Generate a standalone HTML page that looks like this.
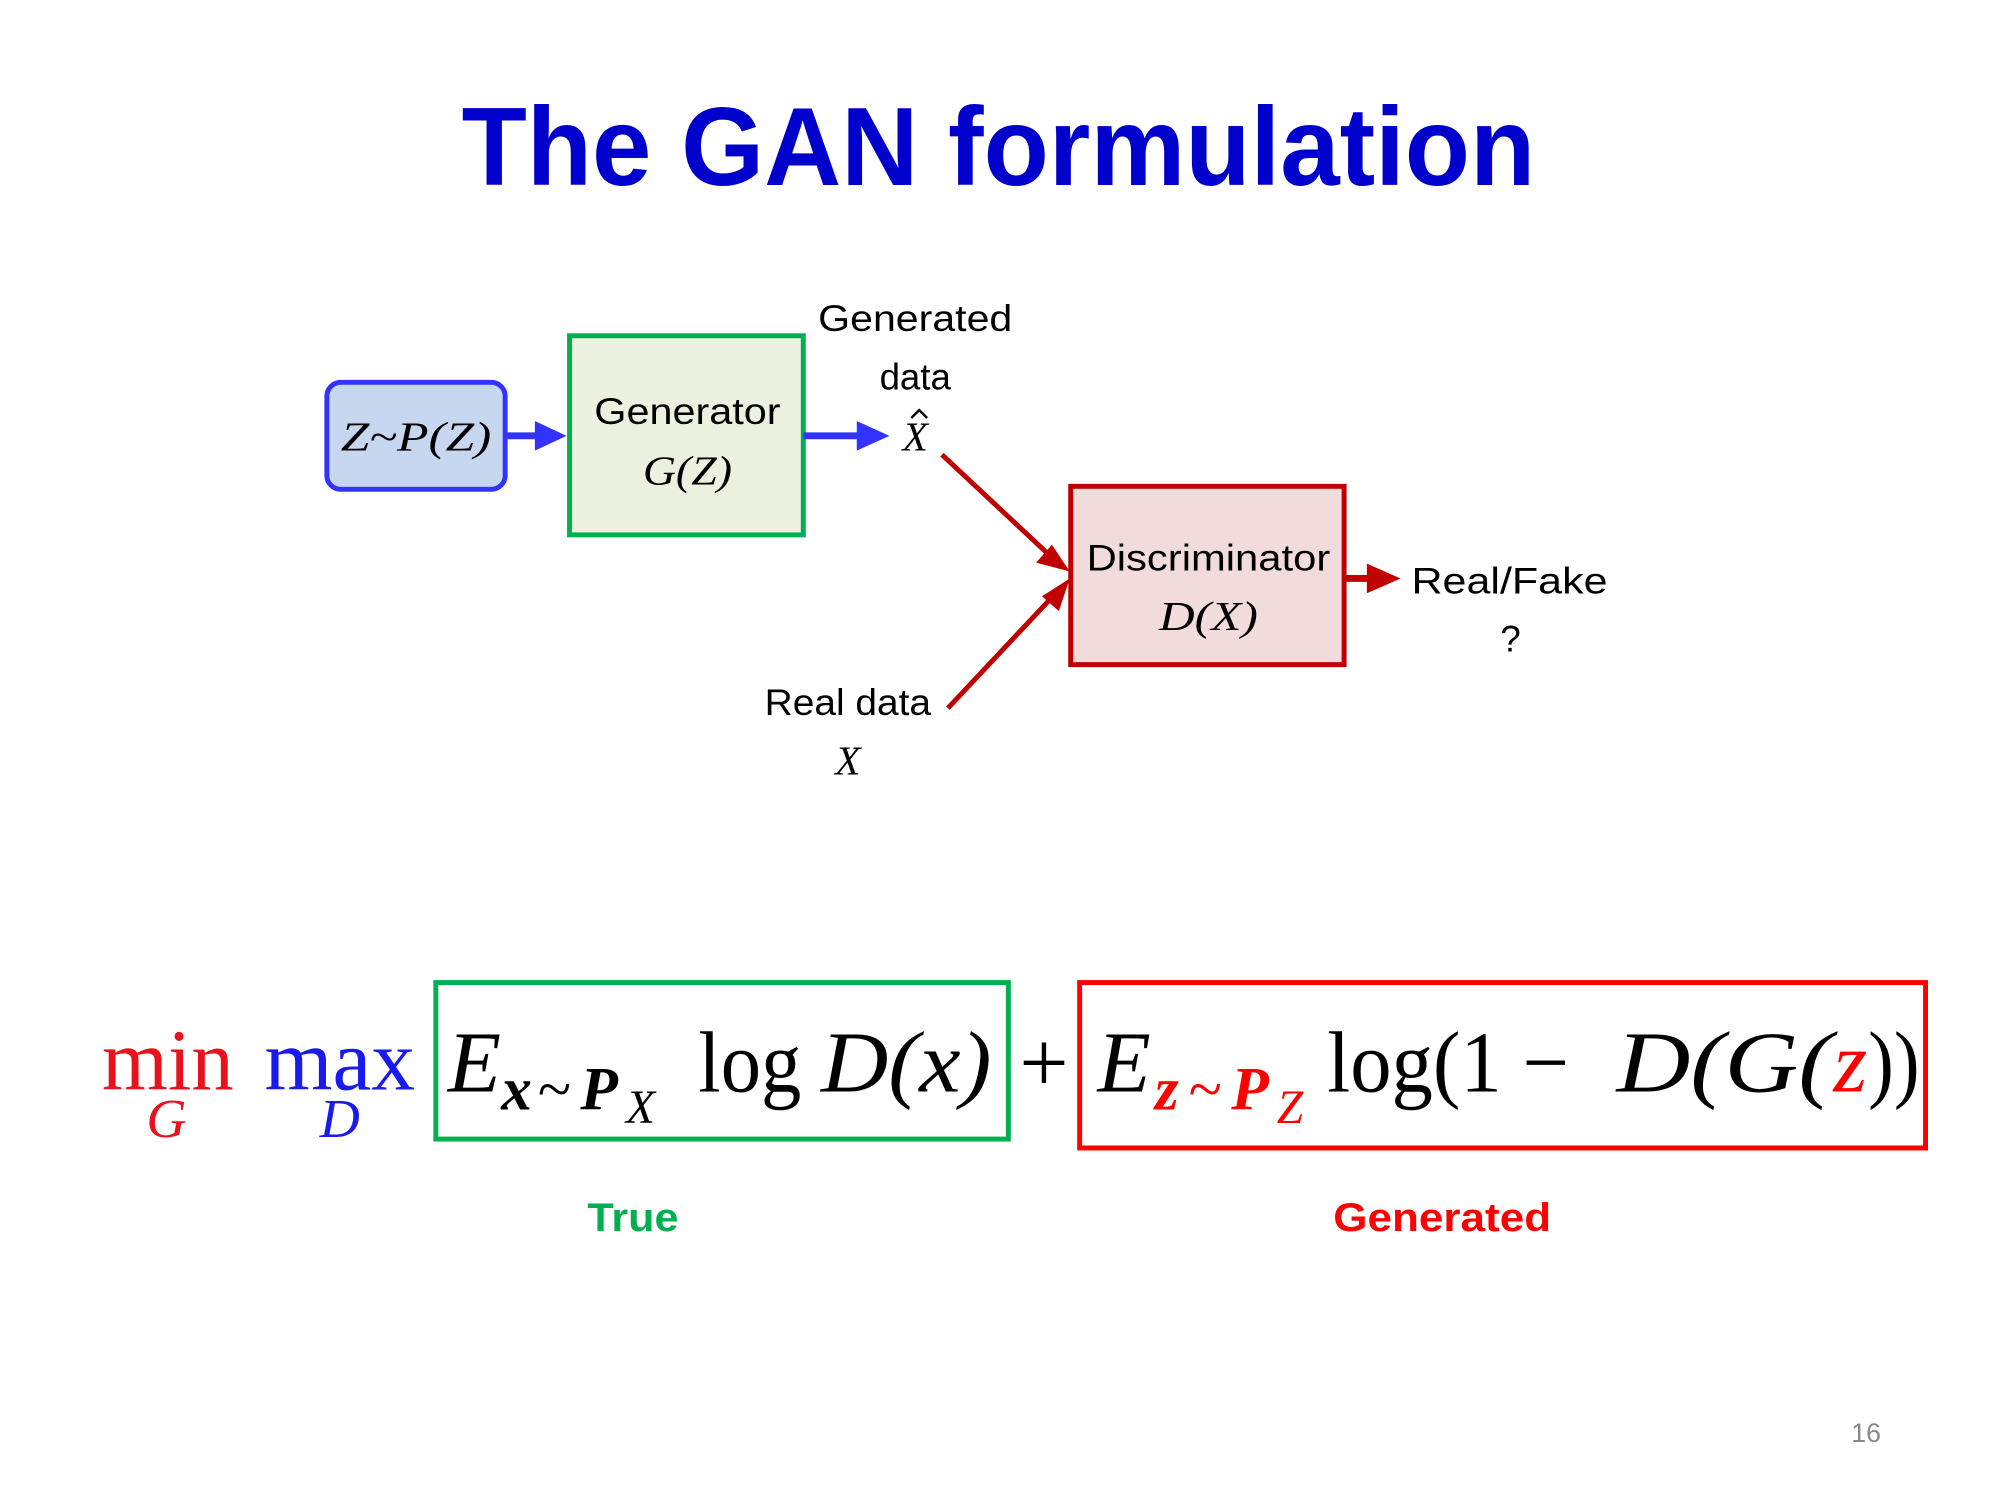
<!DOCTYPE html>
<html><head><meta charset="utf-8"><style>
html,body{margin:0;padding:0;background:#fff}
svg{display:block}
.lbl{font-family:"Liberation Sans",sans-serif;font-size:37px;fill:#000}
.it{font-family:"Liberation Serif",serif;font-style:italic;font-size:42px;fill:#000}
.m{font-family:"Liberation Serif",serif;font-size:88px;fill:#000}
.mi{font-family:"Liberation Serif",serif;font-style:italic;font-size:88px;fill:#000}
.sb{font-family:"Liberation Serif",serif;font-size:62px;fill:#000}
</style></head><body>
<svg width="2000" height="1500" viewBox="0 0 2000 1500" xmlns="http://www.w3.org/2000/svg">
<g transform="scale(0.9905)">
<text x="1008" y="187" text-anchor="middle" font-family="Liberation Sans,sans-serif" font-weight="bold" font-size="112" fill="#0000cc" textLength="1084" lengthAdjust="spacingAndGlyphs">The GAN formulation</text>

<rect x="330" y="386" width="180" height="108" rx="14" fill="#c6d7ef" stroke="#3333ff" stroke-width="5"/>
<text x="420" y="455" text-anchor="middle" class="it" textLength="152" lengthAdjust="spacingAndGlyphs">Z~P(Z)</text>
<line x1="510" y1="440" x2="545" y2="440" stroke="#3333ff" stroke-width="7"/>
<polygon points="540,425 572,440 540,455" fill="#3333ff"/>

<rect x="575" y="339" width="236" height="201" fill="#ebf1de" stroke="#00b050" stroke-width="5"/>
<text x="694" y="428" text-anchor="middle" class="lbl" textLength="188" lengthAdjust="spacingAndGlyphs">Generator</text>
<text x="694" y="489" text-anchor="middle" class="it" textLength="90" lengthAdjust="spacingAndGlyphs">G(Z)</text>
<line x1="811" y1="440" x2="870" y2="440" stroke="#3333ff" stroke-width="7"/>
<polygon points="865,425 898,440 865,455" fill="#3333ff"/>

<text x="924" y="334" text-anchor="middle" class="lbl" textLength="196" lengthAdjust="spacingAndGlyphs">Generated</text>
<text x="924" y="393" text-anchor="middle" class="lbl">data</text>
<text x="924" y="455" text-anchor="middle" class="it">X</text>
<polyline points="920,422 928,414 936,422" fill="none" stroke="#000" stroke-width="2.5"/>

<line x1="951" y1="459" x2="1060" y2="561" stroke="#c00000" stroke-width="5"/>
<polygon points="1080,577 1046,568 1062,550" fill="#c00000"/>
<line x1="957" y1="715" x2="1063" y2="602" stroke="#c00000" stroke-width="5"/>
<polygon points="1080,584 1069,617 1052,602" fill="#c00000"/>

<rect x="1081" y="491" width="276" height="180" fill="#f2dcdb" stroke="#c00000" stroke-width="5"/>
<text x="1220" y="576" text-anchor="middle" class="lbl" textLength="246" lengthAdjust="spacingAndGlyphs">Discriminator</text>
<text x="1220" y="636" text-anchor="middle" class="it" textLength="100" lengthAdjust="spacingAndGlyphs">D(X)</text>
<line x1="1357" y1="584" x2="1385" y2="584" stroke="#c00000" stroke-width="7"/>
<polygon points="1380,569 1414,584 1380,599" fill="#c00000"/>
<text x="1425" y="599" class="lbl" textLength="198" lengthAdjust="spacingAndGlyphs">Real/Fake</text>
<text x="1525" y="658" text-anchor="middle" class="lbl">?</text>

<text x="856" y="722" text-anchor="middle" class="lbl" textLength="168" lengthAdjust="spacingAndGlyphs">Real data</text>
<text x="856" y="782" text-anchor="middle" class="it">X</text>

<text x="103" y="1100" class="m" style="fill:#e8121c" textLength="133" lengthAdjust="spacingAndGlyphs">min</text>
<text x="168" y="1148" text-anchor="middle" class="mi" style="fill:#e8121c;font-size:56px">G</text>
<text x="267" y="1100" class="m" style="fill:#1a1aee" textLength="152" lengthAdjust="spacingAndGlyphs">max</text>
<text x="343" y="1148" text-anchor="middle" class="mi" style="fill:#1a1aee;font-size:56px">D</text>

<rect x="440" y="992" width="578" height="158" fill="none" stroke="#00b050" stroke-width="5"/>
<text x="452" y="1102" class="mi">E</text>
<text x="506" y="1120" class="sb" font-style="italic" font-weight="bold">x</text>
<text x="543" y="1120" class="sb">~</text>
<text x="586" y="1120" class="sb" font-style="italic" font-weight="bold">P</text>
<text x="632" y="1134" class="sb" font-style="italic" style="font-size:48px">X</text>
<text x="705" y="1102" class="m" textLength="104" lengthAdjust="spacingAndGlyphs">log</text>
<text x="829" y="1102" class="mi" textLength="172" lengthAdjust="spacingAndGlyphs">D(x)</text>

<text x="1054" y="1102" text-anchor="middle" class="m">+</text>

<rect x="1090" y="992" width="854" height="167" fill="none" stroke="#ff0000" stroke-width="5"/>
<text x="1108" y="1102" class="mi">E</text>
<text x="1166" y="1120" class="sb" font-style="italic" font-weight="bold" style="fill:#ff0000">z</text>
<text x="1200" y="1120" class="sb" style="fill:#ff0000">~</text>
<text x="1243" y="1120" class="sb" font-style="italic" font-weight="bold" style="fill:#ff0000">P</text>
<text x="1289" y="1134" class="sb" font-style="italic" style="font-size:48px;fill:#ff0000">Z</text>
<text x="1340" y="1102" class="m" textLength="244" lengthAdjust="spacingAndGlyphs">log(1 −</text>
<text x="1632" y="1102" class="mi" textLength="218" lengthAdjust="spacingAndGlyphs">D(G(</text>
<text x="1851" y="1102" class="mi" style="fill:#ff0000">z</text>
<text x="1886" y="1102" class="m" textLength="52" lengthAdjust="spacingAndGlyphs">))</text>

<text x="639" y="1243" text-anchor="middle" font-family="Liberation Sans,sans-serif" font-weight="bold" font-size="40" fill="#00b050" textLength="92" lengthAdjust="spacingAndGlyphs">True</text>
<text x="1456" y="1243" text-anchor="middle" font-family="Liberation Sans,sans-serif" font-weight="bold" font-size="40" fill="#ff0000" textLength="220" lengthAdjust="spacingAndGlyphs">Generated</text>

<text x="1884" y="1456" text-anchor="middle" font-family="Liberation Sans,sans-serif" font-size="27" fill="#888">16</text>
</g>
</svg>
</body></html>
